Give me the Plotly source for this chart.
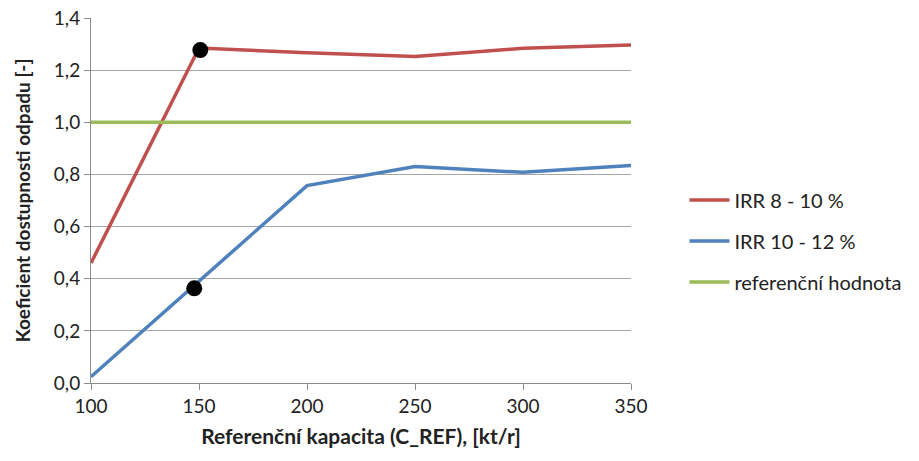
import plotly.graph_objects as go

x_vals = [100, 150, 200, 250, 300, 350]
irr_8_10 = [0.46, 1.285, 1.267, 1.252, 1.284, 1.297]
irr_10_12 = [0.024, 0.39, 0.757, 0.83, 0.808, 0.834]
ref_value = [1.0, 1.0, 1.0, 1.0, 1.0, 1.0]
marker_x = [150.6, 147.8]
marker_y = [1.277, 0.363]
y_ticks = [0.0, 0.2, 0.4, 0.6, 0.8, 1.0, 1.2, 1.4]
y_tick_labels = ["0,0", "0,2", "0,4", "0,6", "0,8", "1,0", "1,2", "1,4"]
x_ticks = [100, 150, 200, 250, 300, 350]

FONT = "Lato"

fig = go.Figure()
fig.add_trace(go.Scatter(x=x_vals, y=irr_8_10, mode="lines", name="IRR 8 - 10 %",
                         line=dict(color="#c0504d", width=3.5), legendgroup="a"))
fig.add_trace(go.Scatter(x=x_vals, y=irr_10_12, mode="lines", name="IRR 10 - 12 %",
                         line=dict(color="#4f81bd", width=3.5), legendgroup="b"))
fig.add_trace(go.Scatter(x=x_vals, y=ref_value, mode="lines", name="referenční hodnota",
                         line=dict(color="#9bbb59", width=3.5), legendgroup="c"))
fig.add_trace(go.Scatter(x=marker_x, y=marker_y, mode="markers", showlegend=False,
                         marker=dict(color="black", size=16), cliponaxis=False))

fig.update_layout(
    width=919, height=461,
    margin=dict(l=91, r=284, t=18, b=78),
    plot_bgcolor="white", paper_bgcolor="white",
    font=dict(family=FONT, size=19, color="#222222"),
    legend=dict(x=1.099, y=0.389, xanchor="left", yanchor="middle",
                font=dict(family=FONT, size=20, color="#222222"),
                tracegroupgap=12, itemwidth=40),
    xaxis=dict(range=[100, 350], tickmode="array", tickvals=x_ticks,
               showgrid=False, showline=True, linecolor="#8c8c8c", linewidth=1,
               ticks="outside", ticklen=6, tickcolor="#8c8c8c",
               tickfont=dict(size=19, family=FONT), automargin=False,
               title=dict(text="<b>Referenční kapacita (C_REF), [kt/r]</b>",
                          font=dict(size=21, family=FONT), standoff=13),
               zeroline=False),
    yaxis=dict(range=[0, 1.4001], tickmode="array", tickvals=y_ticks, ticktext=y_tick_labels,
               showgrid=True, gridcolor="#a6a6a6", gridwidth=1,
               showline=True, linecolor="#8c8c8c", linewidth=1,
               ticks="outside", ticklen=6, tickcolor="#8c8c8c",
               tickfont=dict(size=19, family=FONT), automargin=False,
               title=dict(text="<b>Koeficient dostupnosti odpadu [-]</b>",
                          font=dict(size=19, family=FONT), standoff=18),
               zeroline=False),
)

fig.write_html("out.html", config={"displayModeBar": False},
               post_script="document.body.style.margin='0';document.body.style.overflow='hidden';")
